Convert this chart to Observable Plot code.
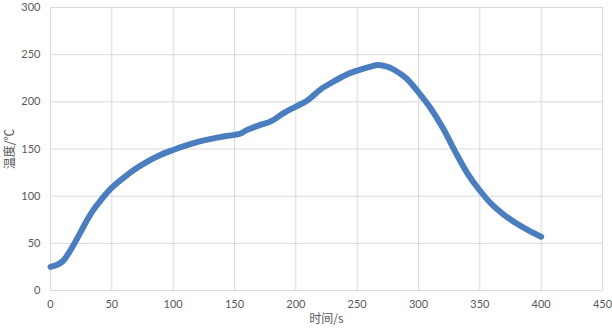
<!DOCTYPE html>
<html>
<head>
<meta charset="utf-8">
<script src="https://cdn.jsdelivr.net/npm/d3@7"></script>
<script src="https://cdn.jsdelivr.net/npm/@observablehq/plot@0.6"></script>
<style>
  html, body { margin: 0; padding: 0; background: #fff; }
</style>
</head>
<body>
<div id="chart"></div>
<script>
const timeS = [0, 5, 10, 15, 20, 25, 30, 35, 40, 45, 50, 60, 70, 80, 90, 100, 110, 120, 130, 140, 150, 155, 160, 170, 180, 190, 200, 210, 220, 230, 240, 250, 260, 267, 275, 280, 290, 300, 310, 320, 330, 340, 350, 360, 370, 380, 390, 400];
const tempC = [25, 27, 31, 40, 51, 63, 75, 85.5, 94, 102, 109, 120, 129.5, 137.5, 144, 149, 153.5, 157.5, 160.5, 163, 165, 166.5, 170, 175, 179.5, 188, 195, 202, 213, 221, 228, 233, 237, 239, 237, 234, 225, 210, 193, 172, 147, 124, 106, 91, 80, 71, 63.5, 57];
const xTicks = [0, 50, 100, 150, 200, 250, 300, 350, 400, 450];
const yTicks = [0, 50, 100, 150, 200, 250, 300];
const xTitle = "时间/s";
const yTitle = "温度/℃";

const data = timeS.map((t, i) => ({t, v: tempC[i]}));

const chart = Plot.plot({
  width: 612,
  height: 330,
  marginLeft: 50,
  marginRight: 10,
  marginTop: 7,
  marginBottom: 40,
  style: {fontFamily: "Lato, 'Noto Sans CJK SC', sans-serif", fontSize: "11px", color: "#595959", background: "#fff"},
  x: {domain: [0, 450]},
  y: {domain: [0, 300]},
  marks: [
    Plot.gridX(xTicks, {stroke: "#d9d9d9", strokeOpacity: 1, strokeWidth: 1}),
    Plot.gridY(yTicks, {stroke: "#d9d9d9", strokeOpacity: 1, strokeWidth: 1}),
    Plot.axisX(xTicks, {tickSize: 0, tickPadding: 10, fill: "#595959", label: null, fontSize: 11}),
    Plot.axisY(yTicks, {tickSize: 0, tickPadding: 10, fill: "#595959", label: null, fontSize: 11}),
    Plot.text([xTitle], {text: d => d, frameAnchor: "bottom", textAnchor: "middle", dy: 32, fill: "#595959", fontSize: 12, fontFamily: "'Noto Sans CJK SC', sans-serif"}),
    Plot.text([yTitle], {text: d => d, frameAnchor: "left", textAnchor: "middle", lineAnchor: "middle", dx: -40, rotate: -90, fill: "#595959", fontSize: 12, fontFamily: "'Noto Sans CJK SC', serif"}),
    Plot.line(data, {x: "t", y: "v", stroke: "#4a7ebf", strokeWidth: 6, curve: "catmull-rom", strokeLinecap: "round", strokeLinejoin: "round"})
  ]
});
document.getElementById("chart").appendChild(chart);
</script>
</body>
</html>
